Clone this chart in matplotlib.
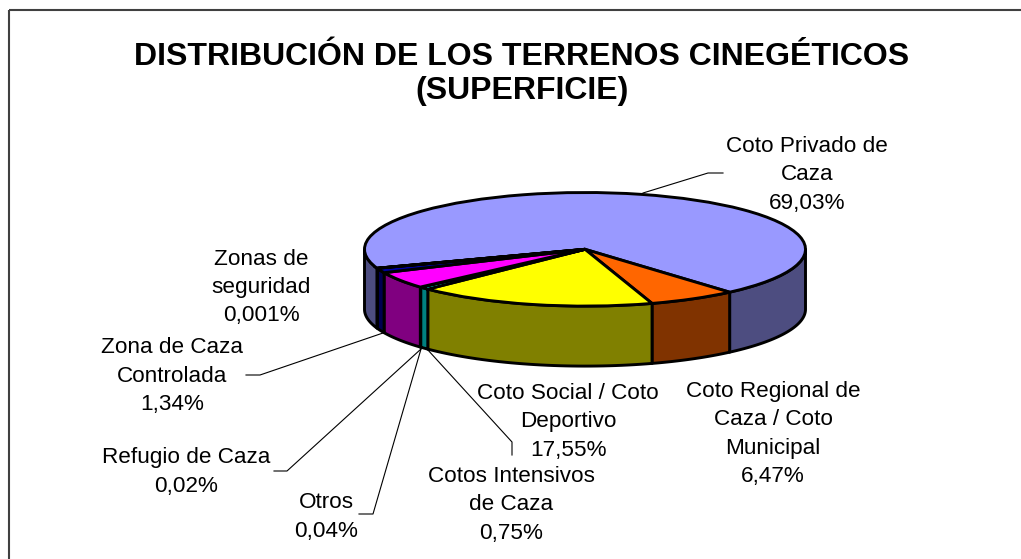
import numpy as np
import matplotlib
matplotlib.use('Agg')
import matplotlib.pyplot as plt
from matplotlib.patches import Polygon, Rectangle
from matplotlib.colors import to_rgb

W, H = 1021, 559

title = 'DISTRIBUCIÓN DE LOS TERRENOS CINEGÉTICOS\n(SUPERFICIE)'
# drawn shares, clockwise from the big slice
names = ['Coto Privado', 'Coto Regional', 'Coto Social', 'Cotos Intensivos',
         'Otros', 'Refugio', 'Zona Controlada', 'Zonas seguridad']
shares = [69.03, 6.47, 17.55, 0.75, 0.04, 4.82, 1.34, 0.001]
colors = ['#9999FF', '#FF6600', '#FFFF00', '#00FFFF',
          '#00A0A0', '#FF00FF', '#0000A0', '#000080']
start = 199.5

labels = ['Coto Privado de\nCaza\n69,03%',
          'Coto Regional de\nCaza / Coto\nMunicipal\n6,47%',
          'Coto Social / Coto\nDeportivo\n17,55%',
          'Cotos Intensivos\nde Caza\n0,75%',
          'Otros\n0,04%',
          'Refugio de Caza\n0,02%',
          'Zona de Caza\nControlada\n1,34%',
          'Zonas de\nseguridad\n0,001%']
label_x = [807, 773, 568, 511, 326, 186, 172, 261]
label_y = [175, 434, 422, 505, 517, 472, 376, 287.5]

leaders = [[(643, 193), (708, 173), (723, 173)],
           [(383, 333), (260, 375), (246, 375)],
           [(421, 349), (287, 471), (274, 471)],
           [(421, 349), (373, 514), (359, 514)],
           [(427, 349), (512, 442), (512, 455)]]

plt.rcParams['font.family'] = ['Liberation Sans', 'DejaVu Sans']

fig = plt.figure(figsize=(W / 100, H / 100), dpi=100)
ax = fig.add_axes([0, 0, 1, 1])

cx, cy, rx, ry, depth = 585, 249.3, 220.5, 56.8, 60

def wall(a1, a2, col):
    # a1 > a2, clockwise; only the part facing the viewer is visible
    for lo, hi in [(180, 360), (-180, 0)]:
        s, e = max(a2, lo), min(a1, hi)
        if e <= s:
            continue
        t = np.radians(np.linspace(s, e, 40))
        x, y = np.cos(t), np.sin(t)
        d = depth / ry
        pts = np.r_[np.c_[x, y], np.c_[x, y - d][::-1]]
        shade = tuple(c * 0.5 for c in to_rgb(col))
        ax.add_patch(Polygon(pts, closed=True, fc=shade, ec='black', lw=2.1,
                             joinstyle='round', zorder=1))

a = start
total = sum(shares)
for s, c in zip(shares, colors):
    b = a - s / total * 360
    wall(a, b, c)
    a = b

ax.pie(shares, colors=colors, startangle=start, counterclock=False,
       wedgeprops=dict(edgecolor='black', linewidth=2.1, zorder=2))
ax.set_aspect('auto')
ax.set_xlim(-cx / rx, (W - cx) / rx)
ax.set_ylim(-(H - cy) / ry, cy / ry)

# pixel space for the annotation layer
ov = fig.add_axes([0, 0, 1, 1], facecolor='none')
ov.set_xlim(0, W)
ov.set_ylim(H, 0)
ov.axis('off')
# frame runs off the right and bottom of the picture
ov.add_patch(Rectangle((9, 9.5), 1100, 700, fc='none', ec='#404040', lw=1.5, clip_on=True))
ov.text(522, 74, title, ha='center', va='center', fontsize=23, fontweight='bold',
        linespacing=1.19)
for t, x, y in zip(labels, label_x, label_y):
    ov.text(x, y, t, ha='center', va='center', fontsize=16.2, linespacing=1.46, color='black')
for seg in leaders:
    xs, ys = zip(*seg)
    ov.plot(xs, ys, color='black', lw=0.8)

fig.savefig('out.png', dpi=100)
